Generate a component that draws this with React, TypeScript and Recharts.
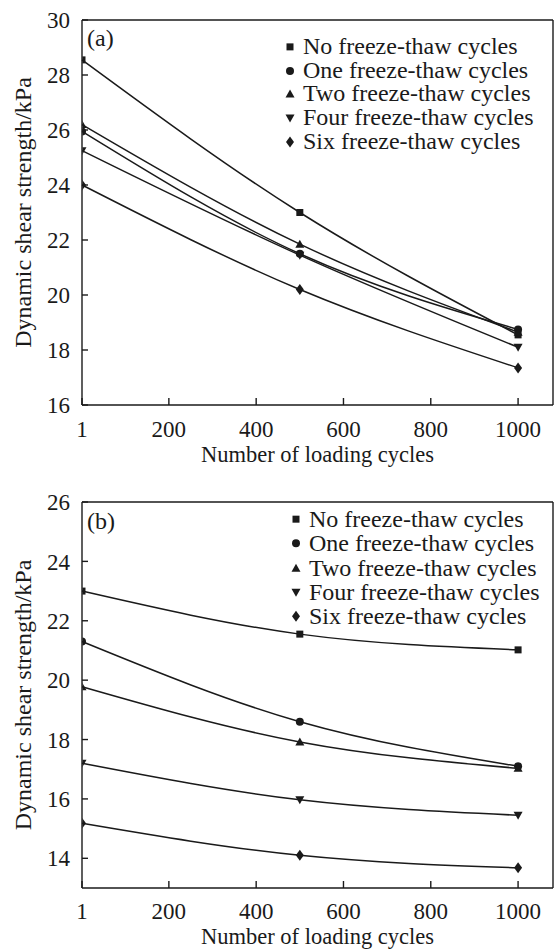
import React from 'react';
import { LineChart, Line, XAxis, YAxis, ReferenceLine, Legend } from 'recharts';

// ---------- data ----------
const loadingCycles = [1, 500, 1000];
const seriesNames = [
  'No freeze-thaw cycles',
  'One freeze-thaw cycles',
  'Two freeze-thaw cycles',
  'Four freeze-thaw cycles',
  'Six freeze-thaw cycles',
];
const seriesKeys = ['none', 'one', 'two', 'four', 'six'];
const seriesShapes = ['square', 'circle', 'triangle', 'triangleDown', 'diamond'];

// panel (a)
const panelANone = [28.55, 23.0, 18.55];
const panelAOne = [25.95, 21.5, 18.75];
const panelATwo = [26.2, 21.85, 18.65];
const panelAFour = [25.25, 21.45, 18.1];
const panelASix = [24.0, 20.2, 17.35];

// panel (b)
const panelBNone = [23.0, 21.55, 21.02];
const panelBOne = [21.3, 18.6, 17.1];
const panelBTwo = [19.78, 17.92, 17.03];
const panelBFour = [17.2, 15.97, 15.45];
const panelBSix = [15.18, 14.1, 13.68];

const xTicks = [1, 200, 400, 600, 800, 1000];
const xDomain: [number, number] = [1, 1080];
const panelAYTicks = [16, 18, 20, 22, 24, 26, 28, 30];
const panelAYDomain: [number, number] = [16, 30];
const panelBYTicks = [14, 16, 18, 20, 22, 24, 26];
const panelBYDomain: [number, number] = [13, 26];

const xTitle = 'Number of loading cycles';
const yTitle = 'Dynamic shear strength/kPa';

// ---------- helpers ----------
const buildRows = (series: number[][]) =>
  loadingCycles.map((c, i) => {
    const row: Record<string, number> = { cycles: c };
    seriesKeys.forEach((k, s) => {
      row[k] = series[s][i];
    });
    return row;
  });

const panelAData = buildRows([panelANone, panelAOne, panelATwo, panelAFour, panelASix]);
const panelBData = buildRows([panelBNone, panelBOne, panelBTwo, panelBFour, panelBSix]);

const INK = '#1a1a1a';
const FONT = '"Liberation Serif", "Times New Roman", serif';

const shapeEl = (shape: string, cx: number, cy: number, clip?: string) => {
  const common = { fill: INK, clipPath: clip };
  switch (shape) {
    case 'square':
      return <rect x={cx - 3.5} y={cy - 3.5} width={7} height={7} {...common} />;
    case 'circle':
      return <circle cx={cx} cy={cy} r={4} {...common} />;
    case 'triangle':
      return <path d={`M${cx},${cy - 4.5}L${cx + 4.5},${cy + 3.5}L${cx - 4.5},${cy + 3.5}Z`} {...common} />;
    case 'triangleDown':
      return <path d={`M${cx},${cy + 4.5}L${cx + 4.5},${cy - 3.5}L${cx - 4.5},${cy - 3.5}Z`} {...common} />;
    default:
      return <path d={`M${cx},${cy - 5.5}L${cx + 4},${cy}L${cx},${cy + 5.5}L${cx - 4},${cy}Z`} {...common} />;
  }
};

const Marker = ({ shape, cx, cy, half, id }: { shape: string; cx: number; cy: number; half?: boolean; id?: string }) => {
  if (cx == null || cy == null) return null;
  if (!half) return <g>{shapeEl(shape, cx, cy)}</g>;
  // the first point sits on the y axis: only the half inside the plot shows
  return (
    <g>
      <defs>
        <clipPath id={id} clipPathUnits="objectBoundingBox">
          <rect x={0.55} y={-0.2} width={0.7} height={1.4} />
        </clipPath>
      </defs>
      {shapeEl(shape, cx, cy, `url(#${id})`)}
    </g>
  );
};

const LegendBox = ({ rowH }: { rowH: number }) => (
  <div style={{ fontFamily: FONT, fontSize: 24, color: INK }}>
    {seriesNames.map((n, i) => (
      <div key={n} style={{ display: 'flex', alignItems: 'center', height: rowH, lineHeight: `${rowH}px`, whiteSpace: 'nowrap' }}>
        <svg width={20} height={rowH} style={{ flex: 'none' }}>
          <Marker shape={seriesShapes[i]} cx={7} cy={rowH / 2} />
        </svg>
        <span>{n}</span>
      </div>
    ))}
  </div>
);

const YTitle = (props: any) => {
  const vb = props.viewBox || {};
  const x = (vb.x ?? 0) + 31;
  const y = (vb.y ?? 0) + (vb.height ?? 0) / 2;
  return (
    <text x={x} y={y} transform={`rotate(-90, ${x}, ${y})`} textAnchor="middle" fill={INK} fontFamily={FONT} fontSize={24}>
      {yTitle}
    </text>
  );
};

const PanelTag = (text: string, dy: number) => (props: any) => {
  const vb = props.viewBox || {};
  return (
    <text x={(vb.x ?? 0) + 5} y={(vb.y ?? 0) + dy} fill={INK} fontFamily={FONT} fontSize={24}>
      {text}
    </text>
  );
};

type PanelProps = {
  data: Record<string, number>[];
  yTicks: number[];
  yDomain: [number, number];
  tag: string;
  tagDy: number;
  height: number;
  margin: { top: number; right: number; bottom: number; left: number };
  legendTop: number;
  legendLeft: number;
  legendRowH: number;
  xTickMargin: number;
  xTitleOffset: number;
};

const Panel = ({
  data, yTicks, yDomain, tag, tagDy, height, margin, legendTop, legendLeft, legendRowH, xTickMargin, xTitleOffset,
}: PanelProps) => (
  <LineChart width={555} height={height} data={data} margin={margin}>
    <XAxis
      dataKey="cycles"
      type="number"
      domain={xDomain}
      ticks={xTicks}
      height={60}
      tickSize={-7}
      tickMargin={xTickMargin}
      axisLine={{ stroke: INK, strokeWidth: 1.4 }}
      tickLine={{ stroke: INK, strokeWidth: 1.4 }}
      tick={{ fill: INK, fontSize: 23, fontFamily: FONT }}
      label={{ value: xTitle, position: 'insideBottom', offset: xTitleOffset, fill: INK, fontSize: 22.5, fontFamily: FONT }}
    />
    <YAxis
      type="number"
      domain={yDomain}
      ticks={yTicks}
      width={82}
      tickSize={-6}
      tickMargin={18}
      axisLine={{ stroke: INK, strokeWidth: 1.4 }}
      tickLine={{ stroke: INK, strokeWidth: 1.4 }}
      tick={{ fill: INK, fontSize: 23, fontFamily: FONT }}
      label={{ content: YTitle }}
    />
    <ReferenceLine y={yDomain[1]} stroke={INK} strokeWidth={1.4} label={{ content: PanelTag(tag, tagDy) }} />
    <ReferenceLine x={xDomain[1]} stroke={INK} strokeWidth={1.4} />
    {seriesKeys.map((k, i) => (
      <Line
        key={k}
        dataKey={k}
        name={seriesNames[i]}
        type="natural"
        stroke={INK}
        strokeWidth={1.5}
        isAnimationActive={false}
        dot={(p: any) => (
          <Marker
            key={`${tag}-${k}-${p.index}`}
            id={`clip-${tag.replace(/[()]/g, '')}-${k}-${p.index}`}
            half={p.index === 0}
            shape={seriesShapes[i]}
            cx={p.cx}
            cy={p.cy}
          />
        )}
        activeDot={false}
      />
    ))}
    <Legend
      layout="vertical"
      align="center"
      verticalAlign="middle"
      content={() => <LegendBox rowH={legendRowH} />}
      wrapperStyle={{ top: legendTop, left: legendLeft, width: 268, height: 'auto' }}
    />
  </LineChart>
);

export default function App() {
  return (
    <div style={{ position: 'absolute', left: 0, top: 0, width: 555, height: 949, background: '#fff' }}>
      <Panel
        data={panelAData}
        yTicks={panelAYTicks}
        yDomain={panelAYDomain}
        tag="(a)"
        tagDy={26}
        height={470}
        margin={{ top: 20, right: 2, bottom: 5, left: 0 }}
        legendTop={34.8}
        legendLeft={283}
        legendRowH={23.75}
        xTickMargin={23}
        xTitleOffset={3}
      />
      <Panel
        data={panelBData}
        yTicks={panelBYTicks}
        yDomain={panelBYDomain}
        tag="(b)"
        tagDy={27}
        height={479}
        margin={{ top: 32, right: 2, bottom: 1, left: 0 }}
        legendTop={37.1}
        legendLeft={289}
        legendRowH={24.35}
        xTickMargin={22}
        xTitleOffset={4}
      />
    </div>
  );
}
